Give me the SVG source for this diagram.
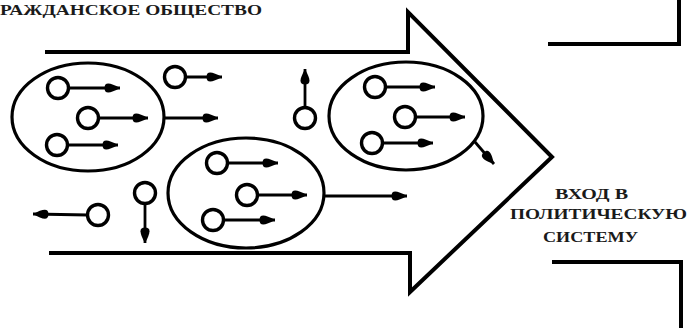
<svg xmlns="http://www.w3.org/2000/svg" width="689" height="328" viewBox="0 0 689 328">
<style>
.bg{fill:#ffffff}
.big{fill:none;stroke:#000;stroke-width:4;stroke-linejoin:miter}
.ell{fill:none;stroke:#000;stroke-width:3.2}
.c{fill:#fff;stroke:#000;stroke-width:3.4}
.sh{fill:none;stroke:#000;stroke-width:2.8;marker-end:url(#ah)}
.t{font-family:"Liberation Serif","Times New Roman",serif;font-weight:bold;fill:#1a1a1a}
</style>
<defs>
<marker id="ah" markerUnits="userSpaceOnUse" markerWidth="17" markerHeight="12" viewBox="0 0 17 12" refX="16" refY="6" orient="auto">
<path d="M0.5,6 C0.5,-0.5 6,0.5 16,6 C6,11.5 0.5,12.5 0.5,6 Z" fill="#000"/>
</marker>
</defs>
<rect class="bg" x="0" y="0" width="689" height="328"/>
<g id="title">
<text class="t" x="0" y="15" font-size="15" textLength="262" lengthAdjust="spacingAndGlyphs">РАЖДАНСКОЕ ОБЩЕСТВО</text>
</g>
<g id="big-arrow">
<path class="big" d="M45,52 H408 V12 L552,157 L410,292 V253 H49"/>
</g>
<g id="brackets">
<path class="big" d="M548,44 H679 V0"/>
<path class="big" d="M552,262 H681 V328"/>
</g>
<g id="label">
<text class="t" x="555" y="199" font-size="14" textLength="73" lengthAdjust="spacingAndGlyphs">ВХОД В</text>
<text class="t" x="510" y="219" font-size="14" textLength="177" lengthAdjust="spacingAndGlyphs">ПОЛИТИЧЕСКУЮ</text>
<text class="t" x="543" y="242" font-size="14" textLength="95" lengthAdjust="spacingAndGlyphs">СИСТЕМУ</text>
</g>
<g id="connectors">
<line class="sh" x1="68" y1="88" x2="120" y2="88"/>
<line class="sh" x1="98" y1="118" x2="148" y2="118"/>
<line class="sh" x1="67" y1="145" x2="118" y2="145"/>
<line class="sh" x1="164" y1="118" x2="218" y2="118"/>
<line class="sh" x1="185" y1="77" x2="222" y2="77"/>
<line class="sh" x1="227" y1="163" x2="278" y2="163"/>
<line class="sh" x1="257" y1="195" x2="307" y2="195"/>
<line class="sh" x1="223" y1="220" x2="275" y2="220"/>
<line class="sh" x1="324" y1="196" x2="407" y2="196"/>
<line class="sh" x1="385" y1="87" x2="435" y2="87"/>
<line class="sh" x1="415" y1="117" x2="465" y2="117"/>
<line class="sh" x1="382" y1="143" x2="433" y2="143"/>
<line class="sh" x1="475" y1="142" x2="494" y2="164"/>
<line class="sh" x1="305" y1="108" x2="305" y2="69"/>
<line class="sh" x1="88" y1="215" x2="33" y2="214"/>
<line class="sh" x1="145" y1="203" x2="145" y2="243"/>
</g>
<g id="group1">
<ellipse class="ell" cx="88" cy="117" rx="76" ry="54"/>
<circle class="c" cx="58" cy="88" r="10.5"/>
<circle class="c" cx="88" cy="118" r="10.5"/>
<circle class="c" cx="57" cy="145" r="10.5"/>
</g>
<g id="group2">
<ellipse class="ell" cx="246" cy="193" rx="78" ry="55"/>
<circle class="c" cx="217" cy="163" r="10.5"/>
<circle class="c" cx="247" cy="195" r="10.5"/>
<circle class="c" cx="213" cy="220" r="10.5"/>
</g>
<g id="group3">
<ellipse class="ell" cx="406" cy="116" rx="77" ry="54"/>
<circle class="c" cx="375" cy="87" r="10.5"/>
<circle class="c" cx="405" cy="117" r="10.5"/>
<circle class="c" cx="372" cy="143" r="10.5"/>
</g>
<g id="free1"><circle class="c" cx="175" cy="77" r="10.5"/></g>
<g id="free2"><circle class="c" cx="305" cy="118" r="10.5"/></g>
<g id="free3"><circle class="c" cx="98" cy="215" r="10.5"/></g>
<g id="free4"><circle class="c" cx="145" cy="193" r="10.5"/></g>
</svg>
